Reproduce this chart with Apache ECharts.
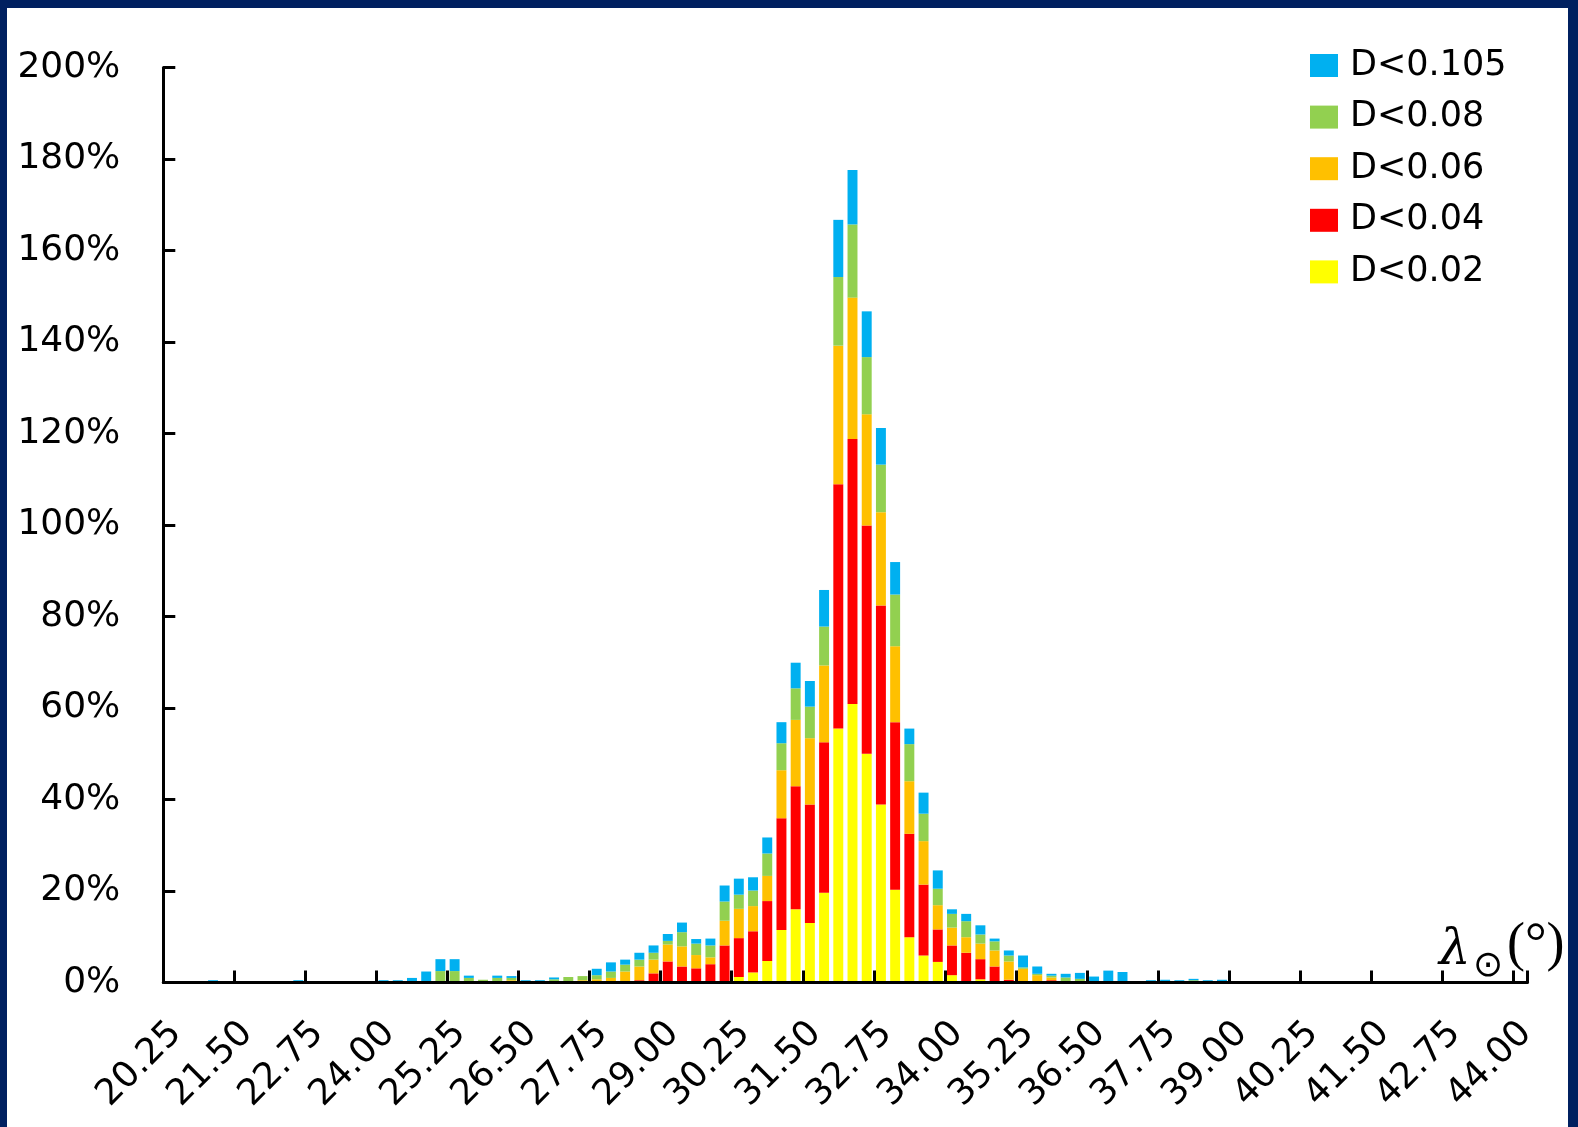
<!DOCTYPE html>
<html>
<head>
<meta charset="utf-8">
<script src="https://cdn.jsdelivr.net/npm/echarts@6/dist/echarts.min.js"></script>
<style>
  html, body { margin: 0; padding: 0; background: #002060; }
  #main { position: absolute; left: 7px; top: 8px; width: 1561px; height: 1119px; background: #ffffff; }
</style>
</head>
<body>
<div id="main"></div>
<script>
// solar longitude bins (deg)
var categories = [
  '20.25','20.50','20.75','21.00','21.25','21.50','21.75','22.00','22.25','22.50',
  '22.75','23.00','23.25','23.50','23.75','24.00','24.25','24.50','24.75','25.00',
  '25.25','25.50','25.75','26.00','26.25','26.50','26.75','27.00','27.25','27.50',
  '27.75','28.00','28.25','28.50','28.75','29.00','29.25','29.50','29.75','30.00',
  '30.25','30.50','30.75','31.00','31.25','31.50','31.75','32.00','32.25','32.50',
  '32.75','33.00','33.25','33.50','33.75','34.00','34.25','34.50','34.75','35.00',
  '35.25','35.50','35.75','36.00','36.25','36.50','36.75','37.00','37.25','37.50',
  '37.75','38.00','38.25','38.50','38.75','39.00','39.25','39.50','39.75','40.00',
  '40.25','40.50','40.75','41.00','41.25','41.50','41.75','42.00','42.25','42.50',
  '42.75','43.00','43.25','43.50','43.75','44.00'
];

// percent values, one per bin
var d002 = [
  0,0,0,0,0,0,0,0,0,0,
  0,0,0,0,0,0,0,0,0,0,
  0,0,0,0,0,0,0,0,0,0,
  0,0,0,0,0,0,0,0,0,0,
  1.2,2.2,4.7,11.5,16.0,13.0,19.6,55.5,60.9,50.0,
  38.9,20.3,9.9,5.9,4.5,1.6,0,0.7,0,0,
  0,0,0,0,0,0,0,0,0,0,
  0,0,0,0,0,0,0,0,0,0,
  0,0,0,0,0,0,0,0,0,0,
  0,0,0,0,0,0
];
var d004 = [
  0,0,0,0,0,0,0,0,0,0,
  0,0,0,0,0,0,0,0,0,0,
  0,0,0,0,0,0,0,0,0,0,
  0,0,0,0.5,2.0,4.6,3.5,3.1,4.0,8.1,
  8.5,9.0,13.1,24.4,26.9,25.9,32.9,53.4,57.9,49.9,
  43.5,36.6,22.6,15.5,7.1,6.5,6.5,4.4,3.5,0.6,
  0,0,0.5,0,0,0,0,0,0,0,
  0,0,0,0,0,0,0,0,0,0,
  0,0,0,0,0,0,0,0,0,0,
  0,0,0,0,0,0
];
var d006 = [
  0,0,0,0,0,0,0,0,0,0,
  0,0,0,0,0,0,0,0,0,0,
  0,0,0,0,0.5,0,0,0,0.3,0.5,
  0.7,1.0,2.4,3.0,3.0,3.7,4.4,2.9,1.5,5.4,
  6.4,5.5,5.5,10.5,14.5,14.5,16.8,30.3,30.9,24.3,
  20.4,16.6,11.5,9.5,5.3,3.9,3.4,3.4,3.5,4.0,
  3.0,1.6,0.6,0,0,0,0,0,0,0,
  0,0,0,0,0,0,0,0,0,0,
  0,0,0,0,0,0,0,0,0,0,
  0,0,0,0,0,0
];
var d008 = [
  0,0,0,0,0,0,0,0,0,0,
  0,0,0,0,0,0,0,0,0,2.5,
  2.5,1.0,0.6,1.0,0.5,0,0,0.7,0.9,0.9,
  0.9,1.4,1.5,1.5,1.5,0.8,3.1,2.5,2.6,4.2,
  3.1,3.4,4.9,5.9,6.9,6.9,8.5,15.0,16.0,12.5,
  10.4,11.3,8.1,6.0,3.6,3.0,3.5,2.0,2.0,1.3,
  0.3,0.3,0.4,1.1,0.8,0,0,0,0,0,
  0,0,0.5,0,0,0,0,0,0,0,
  0,0,0,0,0,0,0,0,0,0,
  0,0,0,0,0,0
];
var d0105 = [
  0,0,0,0.5,0,0,0,0,0,0.5,
  0,0,0,0,0,0.5,0.5,1.0,2.4,2.6,
  2.6,0.5,0,0.5,0.4,0.5,0.5,0.4,0,0,
  1.4,2.0,1.1,1.5,1.6,1.5,2.1,1.0,1.5,3.5,
  3.5,2.9,3.5,4.6,5.6,5.6,8.0,12.5,11.9,10.0,
  8.0,7.1,3.4,4.6,4.0,1.0,1.6,2.0,0.6,1.1,
  2.6,1.6,0.4,0.8,1.3,1.3,2.6,2.3,0,0.5,
  0.6,0.5,0.3,0.5,0.6,0,0,0,0,0,
  0,0,0,0,0,0,0,0,0,0,
  0,0,0,0,0,0
];

var seriesNames = ['D<0.02', 'D<0.04', 'D<0.06', 'D<0.08', 'D<0.105'];
var seriesColors = ['#FFFF00', '#FF0000', '#FFC000', '#92D050', '#00B0F0'];
var seriesData = [d002, d004, d006, d008, d0105];

var font = 'DejaVu Sans';

function setOption(chart) {
  var series = [];
  for (var i = 0; i < seriesNames.length; i++) {
    series.push({
      name: seriesNames[i],
      type: 'bar',
      stack: 'total',
      barWidth: '70%',
      itemStyle: { color: seriesColors[i] },
      data: seriesData[i]
    });
  }
  var option = {
    animation: false,
    grid: { left: 156.3, top: 59.5, width: 1364.2, height: 915 },
    legend: {
      orient: 'vertical',
      left: 1298,
      top: 35,
      icon: 'rect',
      itemWidth: 28,
      itemHeight: 23,
      itemGap: 16.6,
      data: ['D<0.105', 'D<0.08', 'D<0.06', 'D<0.04', 'D<0.02'],
      textStyle: { fontFamily: font, fontSize: 35, color: '#000', padding: [0, 0, 0, 7] }
    },
    xAxis: {
      type: 'category',
      data: categories,
      boundaryGap: true,
      z: 10,
      axisLine: { show: true, lineStyle: { color: '#000', width: 3 } },
      axisTick: { show: true, inside: true, length: 12, interval: 4, alignWithLabel: false, lineStyle: { color: '#000', width: 3 } },
      axisLabel: {
        interval: 4, rotate: 45, margin: 51, padding: [0, -8, 0, 0],
        fontFamily: font, fontSize: 36, color: '#000'
      },
      splitLine: { show: false }
    },
    yAxis: {
      type: 'value',
      min: 0,
      max: 200,
      interval: 20,
      z: 10,
      axisLine: { show: true, lineStyle: { color: '#000', width: 3 } },
      axisTick: { show: true, inside: true, length: 12, lineStyle: { color: '#000', width: 3 } },
      axisLabel: { formatter: '{value}%', margin: 43, fontFamily: font, fontSize: 36, color: '#000' },
      splitLine: { show: false }
    },
    graphic: [
      { type: 'text', left: 1432, top: 918, style: { text: 'λ', font: 'italic 50px "DejaVu Serif"', fill: '#000' } },
      { type: 'text', left: 1466, top: 941, style: { text: '⊙', font: 'italic 36px "DejaVu Sans"', fill: '#000' } },
      { type: 'text', left: 1500, top: 911, style: { text: '(°)', font: '54px "Liberation Serif"', fill: '#000' } }
    ],
    series: series
  };
  chart.setOption(option);
}

var chart = echarts.init(document.getElementById('main'), null, { renderer: 'canvas' });
setOption(chart);
</script>
</body>
</html>
